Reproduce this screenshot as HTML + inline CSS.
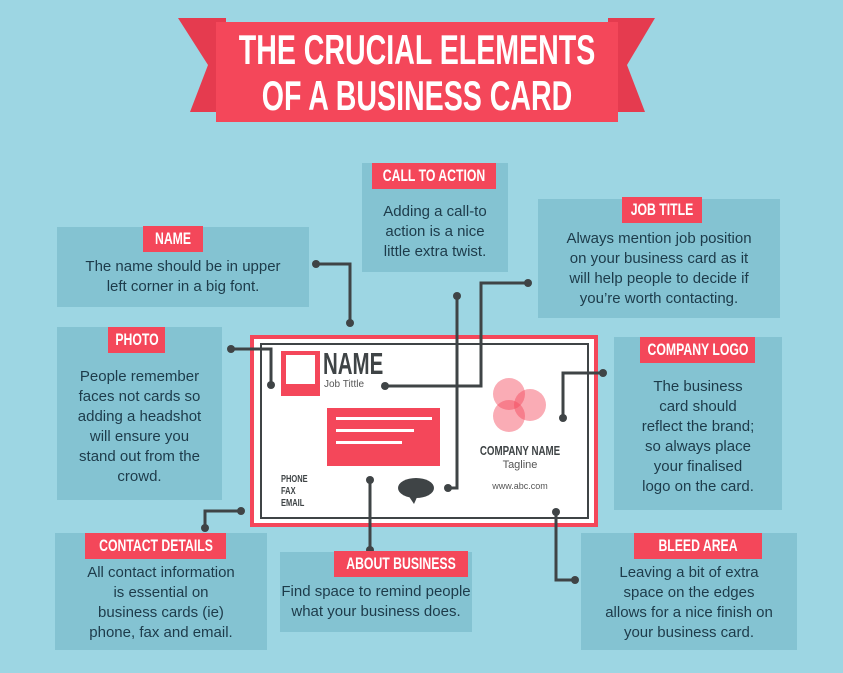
<!DOCTYPE html>
<html><head><meta charset="utf-8"><style>
body{margin:0;width:843px;height:673px;background:#9dd6e3;position:relative;overflow:hidden;font-family:"Liberation Sans",sans-serif}
.box{position:absolute;background:#84c3d2;color:#1d3b4a;text-align:center;font-size:15px;line-height:20px}
.lab{position:absolute;background:#f4475a;color:#fff;font-weight:bold;font-size:17px;height:26px;line-height:26px;white-space:nowrap}
.lab span,.c{position:absolute;left:50%;top:0;transform:translateX(-50%) scaleX(.72);white-space:nowrap}
.t{position:absolute;left:0;right:0}
</style></head><body>
<svg width="843" height="673" style="position:absolute;left:0;top:0">
<polygon points="178,18 226,18 226,112 190,112 208,65" fill="#e53b4f"/>
<polygon points="655,18 608,18 608,112 645,112 627,65" fill="#e53b4f"/>
<rect x="216" y="22" width="402" height="100" fill="#f4475a"/>
<rect x="252" y="337" width="344" height="188" fill="#fff" stroke="#f4475a" stroke-width="4"/>
<rect x="261" y="344" width="327" height="174" fill="none" stroke="#3f4446" stroke-width="2"/>
<rect x="281" y="351" width="39" height="45" fill="#f4475a"/>
<rect x="286" y="355" width="29" height="29" fill="#fff"/>
<rect x="327" y="408" width="113" height="58" fill="#f4475a"/>
<rect x="336" y="417" width="96" height="3" fill="#fff"/>
<rect x="336" y="429" width="78" height="3" fill="#fff"/>
<rect x="336" y="441" width="66" height="3" fill="#fff"/>
<g fill="#f4475a" fill-opacity="0.45"><circle cx="509" cy="394" r="16"/><circle cx="530" cy="405" r="16"/><circle cx="509" cy="416" r="16"/></g>
<ellipse cx="416" cy="488" rx="18" ry="10" fill="#3f4446"/><polygon points="408,495 414,504 418,495" fill="#3f4446"/>
<g stroke="#3f4446" stroke-width="3" fill="none">
<polyline points="316,264 350,264 350,323"/>
<polyline points="231,349 271,349 271,385"/>
<polyline points="385,386 481,386 481,283 528,283"/>
<polyline points="457,296 457,488 448,488"/>
<polyline points="603,373 563,373 563,418"/>
<polyline points="370,480 370,550"/>
<polyline points="556,512 556,580 575,580"/>
<polyline points="241,511 205,511 205,528"/>
</g>
<g fill="#3f4446">
<circle cx="316" cy="264" r="4"/><circle cx="350" cy="323" r="4"/><circle cx="231" cy="349" r="4"/><circle cx="271" cy="385" r="4"/>
<circle cx="385" cy="386" r="4"/><circle cx="528" cy="283" r="4"/><circle cx="457" cy="296" r="4"/><circle cx="448" cy="488" r="4"/>
<circle cx="603" cy="373" r="4"/><circle cx="563" cy="418" r="4"/><circle cx="370" cy="480" r="4"/><circle cx="370" cy="550" r="4"/>
<circle cx="556" cy="512" r="4"/><circle cx="575" cy="580" r="4"/><circle cx="241" cy="511" r="4"/><circle cx="205" cy="528" r="4"/>
</g>
</svg>
<div style="position:absolute;left:216px;top:27px;width:402px;height:92px;color:#fff;font-weight:bold;font-size:42px;line-height:46px">
<div class="c" style="transform:translateX(-50%) scaleX(.68)">THE CRUCIAL ELEMENTS</div>
<div class="c" style="top:46px;transform:translateX(-50%) scaleX(.68)">OF A BUSINESS CARD</div></div>
<div style="position:absolute;left:323px;top:349px;font-weight:bold;font-size:31px;color:#3f4446;line-height:30px;transform:scaleX(.66);transform-origin:left">NAME</div>
<div style="position:absolute;left:324px;top:379px;font-size:10px;color:#555">Job Tittle</div>
<div style="position:absolute;left:281px;top:474px;font-weight:bold;font-size:10px;color:#3f4446;line-height:12px;transform:scaleX(.75);transform-origin:left">PHONE<br>FAX<br>EMAIL</div>
<div style="position:absolute;left:460px;top:443px;width:120px;height:16px;font-weight:bold;font-size:13px;color:#3f4446"><div class="c" style="transform:translateX(-50%) scaleX(.75)">COMPANY NAME</div></div>
<div style="position:absolute;left:470px;top:459px;width:100px;text-align:center;font-size:11px;color:#555">Tagline</div>
<div style="position:absolute;left:470px;top:481px;width:100px;text-align:center;font-size:9px;color:#555">www.abc.com</div>
<div class="box" style="left:57px;top:227px;width:252px;height:80px"><div class="t" style="top:30px">The name should be in upper<br>left corner in a big font.</div></div>
<div class="lab" style="left:143px;top:226px;width:60px"><span>NAME</span></div>
<div class="box" style="left:362px;top:163px;width:146px;height:109px"><div class="t" style="top:39px">Adding a call-to<br>action is a nice<br>little extra twist.</div></div>
<div class="lab" style="left:372px;top:163px;width:124px"><span>CALL TO ACTION</span></div>
<div class="box" style="left:538px;top:199px;width:242px;height:119px"><div class="t" style="top:30px">Always mention job position<br>on your business card as it<br>will help people to decide if<br>you’re worth contacting.</div></div>
<div class="lab" style="left:622px;top:197px;width:80px"><span>JOB TITLE</span></div>
<div class="box" style="left:57px;top:327px;width:165px;height:173px"><div class="t" style="top:40px">People remember<br>faces not cards so<br>adding a headshot<br>will ensure you<br>stand out from the<br>crowd.</div></div>
<div class="lab" style="left:108px;top:327px;width:57px"><span>PHOTO</span></div>
<div class="box" style="left:614px;top:337px;width:168px;height:173px"><div class="t" style="top:40px">The business<br>card should<br>reflect the brand;<br>so always place<br>your finalised<br>logo on the card.</div></div>
<div class="lab" style="left:640px;top:337px;width:115px"><span>COMPANY LOGO</span></div>
<div class="box" style="left:55px;top:533px;width:212px;height:117px"><div class="t" style="top:30px">All contact information<br>is essential on<br>business cards (ie)<br>phone, fax and email.</div></div>
<div class="lab" style="left:85px;top:533px;width:141px"><span>CONTACT DETAILS</span></div>
<div class="box" style="left:280px;top:552px;width:192px;height:80px"><div class="t" style="top:30px">Find space to remind people<br>what your business does.</div></div>
<div class="lab" style="left:334px;top:551px;width:134px"><span>ABOUT BUSINESS</span></div>
<div class="box" style="left:581px;top:533px;width:216px;height:117px"><div class="t" style="top:30px">Leaving a bit of extra<br>space on the edges<br>allows for a nice finish on<br>your business card.</div></div>
<div class="lab" style="left:634px;top:533px;width:128px"><span>BLEED AREA</span></div>
</body></html>
